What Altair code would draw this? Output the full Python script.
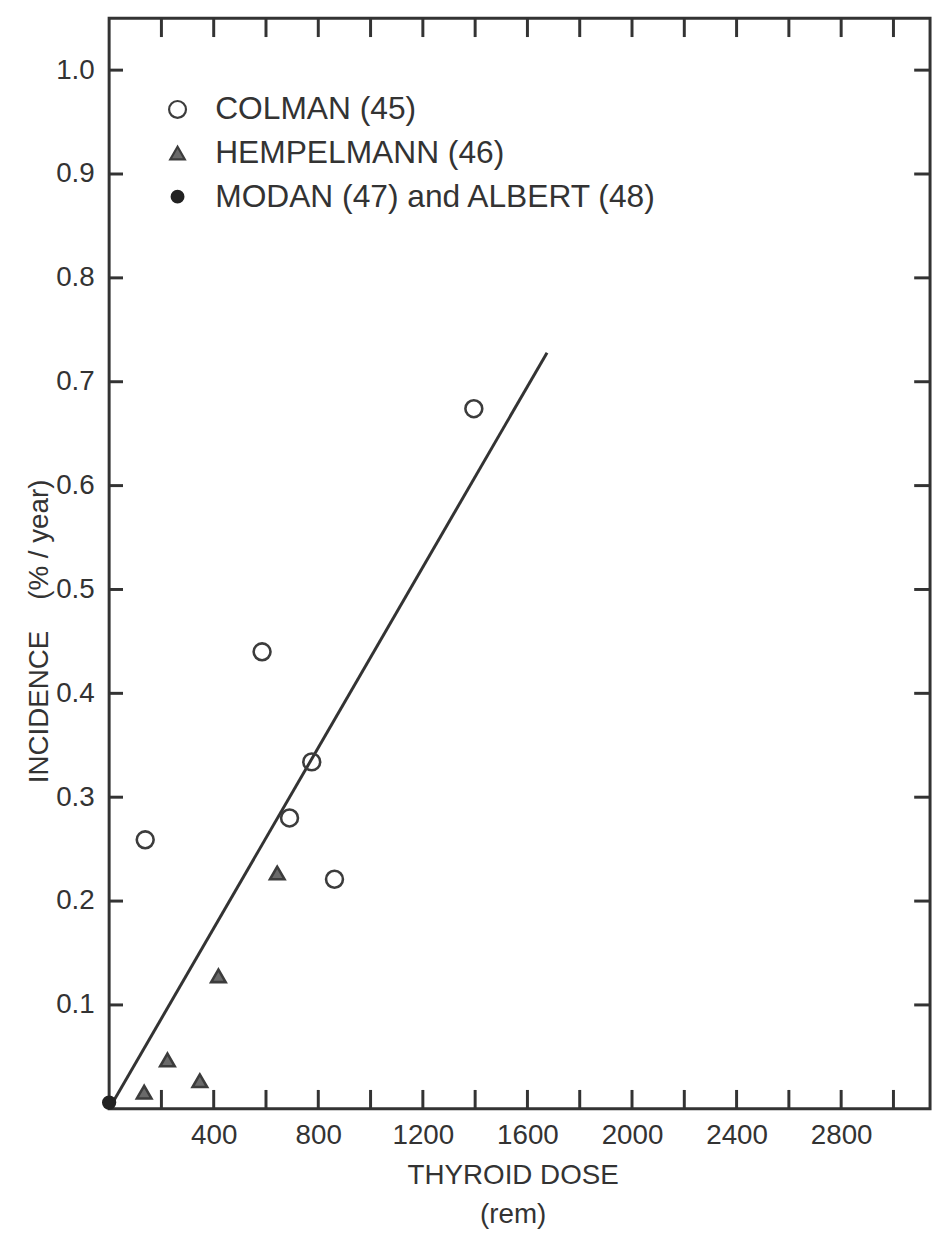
import altair as alt
import pandas as pd

# ---- data ----
colman_dose = [138, 585, 690, 775, 862, 1395]
colman_inc = [0.259, 0.440, 0.280, 0.334, 0.221, 0.674]
hemp_dose = [134, 223, 347, 418, 643]
hemp_inc = [0.016, 0.047, 0.027, 0.128, 0.227]
modan_dose = [0]
modan_inc = [0.006]
fit_dose = [0, 1675]
fit_inc = [0.0, 0.728]

series_names = ["COLMAN (45)", "HEMPELMANN (46)", "MODAN (47) and ALBERT (48)"]
x_tick_values = [200, 400, 600, 800, 1000, 1200, 1400, 1600, 1800, 2000,
                 2200, 2400, 2600, 2800, 3000]
x_label_values = [400, 800, 1200, 1600, 2000, 2400, 2800]
y_tick_values = [0.1, 0.2, 0.3, 0.4, 0.5, 0.6, 0.7, 0.8, 0.9, 1.0]

W, H = 828, 1100
INK = "#333333"
FONT = "Liberation Sans, Arial, sans-serif"
NB = "\u00a0"

pts = pd.DataFrame({
    "dose": colman_dose + hemp_dose + modan_dose,
    "inc": colman_inc + hemp_inc + modan_inc,
    "series": [series_names[0]] * len(colman_dose)
    + [series_names[1]] * len(hemp_dose)
    + [series_names[2]] * len(modan_dose),
})
fit = pd.DataFrame({"dose": fit_dose, "inc": fit_inc})
xt = pd.DataFrame({"v": x_tick_values})
yt = pd.DataFrame({"v": y_tick_values})

xscale = alt.Scale(domain=[0, 3140], nice=False, zero=False)
yscale = alt.Scale(domain=[0, 1.05], nice=False, zero=False)

x_axis = alt.Axis(
    values=x_label_values, format="d", tickSize=0, domain=False, grid=False,
    labelFontSize=28, labelFont=FONT, labelColor=INK, labelPadding=13,
    title=["THYROID DOSE", "(rem)"], titleFontSize=28, titleFont=FONT,
    titleFontWeight="normal", titleColor=INK, titleLineHeight=40,
    titleX=407, titleY=53, titleAlign="center", titleBaseline="top",
)
y_axis = alt.Axis(
    values=y_tick_values, format=".1f", tickSize=0, domain=False, grid=False,
    labelFontSize=28, labelFont=FONT, labelColor=INK, labelPadding=15,
    title="INCIDENCE" + NB * 4 + "(%" + NB + "/" + NB + "year)",
    titleFontSize=28, titleFont=FONT,
    titleFontWeight="normal", titleColor=INK, titleAngle=270,
    titleX=-70, titleY=618, titleAlign="center", titleBaseline="middle",
)

line = alt.Chart(fit).mark_line(color=INK, strokeWidth=3).encode(
    x=alt.X("dose:Q", scale=xscale, axis=x_axis),
    y=alt.Y("inc:Q", scale=yscale, axis=y_axis),
)

points = alt.Chart(pts).mark_point(filled=False, strokeWidth=2.6, opacity=1).encode(
    x=alt.X("dose:Q", scale=xscale),
    y=alt.Y("inc:Q", scale=yscale),
    shape=alt.Shape("series:N", scale=alt.Scale(domain=series_names,
                    range=["circle", "triangle-up", "circle"]),
                    legend=alt.Legend(title=None)),
    color=alt.Color("series:N", scale=alt.Scale(domain=series_names,
                    range=["#3c3c3c", "#3c3c3c", "#222222"]),
                    legend=alt.Legend(title=None)),
    fill=alt.Fill("series:N", scale=alt.Scale(domain=series_names,
                  range=["transparent", "#6a6a6a", "#222222"]),
                  legend=alt.Legend(title=None)),
    size=alt.Size("series:N", scale=alt.Scale(domain=series_names,
                  range=[290, 140, 150]), legend=None),
)

left_ticks = alt.Chart(yt).mark_rule(color=INK, strokeWidth=3).encode(
    y=alt.Y("v:Q", scale=yscale), x=alt.value(0), x2=alt.value(14))
right_ticks = alt.Chart(yt).mark_rule(color=INK, strokeWidth=3).encode(
    y=alt.Y("v:Q", scale=yscale), x=alt.value(W - 16), x2=alt.value(W))
bottom_ticks = alt.Chart(xt).mark_rule(color=INK, strokeWidth=3).encode(
    x=alt.X("v:Q", scale=xscale), y=alt.value(H), y2=alt.value(H - 19))
top_ticks = alt.Chart(xt).mark_rule(color=INK, strokeWidth=3).encode(
    x=alt.X("v:Q", scale=xscale), y=alt.value(0), y2=alt.value(19))

chart = alt.layer(
    line, left_ticks, right_ticks, bottom_ticks, top_ticks, points
).properties(
    width=W, height=H,
    autosize=alt.AutoSizeParams(type="none"),
    padding={"left": 102, "top": 5, "right": 6, "bottom": 122},
    background="white",
).configure_view(
    stroke=INK, strokeWidth=3, fill="white",
).configure_legend(
    orient="none", legendX=53, legendY=76, padding=0,
    labelFont=FONT, labelFontSize=32, labelColor=INK, labelLimit=700,
    labelOffset=22, rowPadding=12, symbolSize=140, symbolStrokeWidth=2.2,
    symbolStrokeColor="#3c3c3c",
)

chart.save("out.html", embed_options={"renderer": "svg", "actions": False})
